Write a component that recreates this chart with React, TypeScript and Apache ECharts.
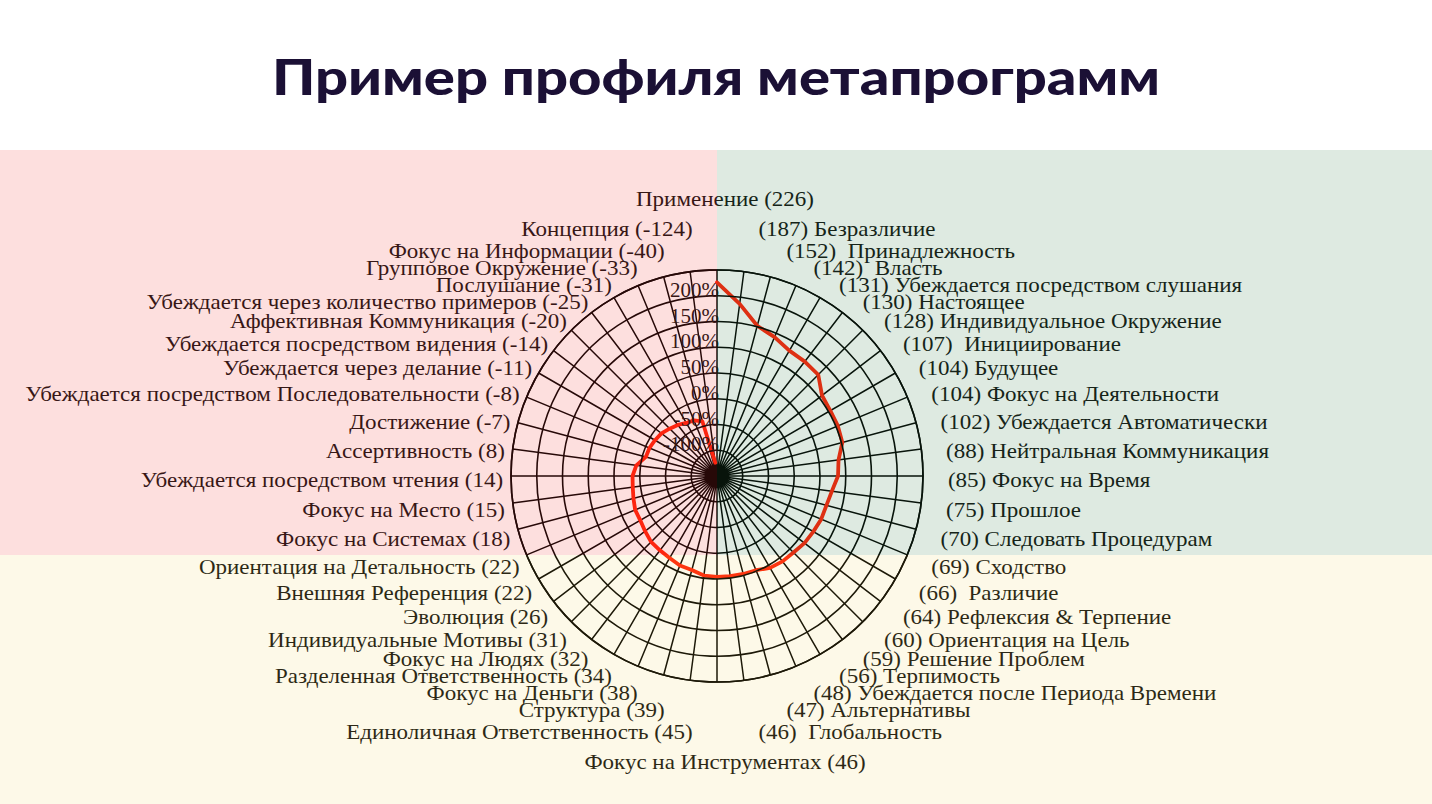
import React, { useEffect, useRef } from 'react';
import * as echarts from 'echarts';

const titleText = 'Пример профиля метапрограмм';

const categories: string[] = [
  'Применение', 'Безразличие', ' Принадлежность', ' Власть', 'Убеждается посредством слушания',
  'Настоящее', 'Индивидуальное Окружение', ' Инициирование', 'Будущее', 'Фокус на Деятельности',
  'Убеждается Автоматически', 'Нейтральная Коммуникация', 'Фокус на Время', 'Прошлое',
  'Следовать Процедурам', 'Сходство', ' Различие', 'Рефлексия & Терпение', 'Ориентация на Цель',
  'Решение Проблем', 'Терпимость', 'Убеждается после Периода Времени', 'Альтернативы', ' Глобальность',
  'Фокус на Инструментах', 'Единоличная Ответственность', 'Структура', 'Фокус на Деньги',
  'Разделенная Ответственность', 'Фокус на Людях', 'Индивидуальные Мотивы', 'Эволюция',
  'Внешняя Референция', 'Ориентация на Детальность', 'Фокус на Системах', 'Фокус на Место',
  'Убеждается посредством чтения', 'Ассертивность', 'Достижение', 'Убеждается посредством Последовательности',
  'Убеждается через делание', 'Убеждается посредством видения', 'Аффективная Коммуникация',
  'Убеждается через количество примеров', 'Послушание', 'Групповое Окружение', 'Фокус на Информации', 'Концепция',
];

const values: number[] = [
  226, 187, 152, 142, 131, 130, 128, 107, 104, 104, 102, 88, 85, 75, 70, 69, 66, 64, 60, 59, 56, 48, 47, 46,
  46, 45, 39, 38, 34, 32, 31, 26, 22, 22, 18, 15, 14, 8, -7, -8, -11, -14, -20, -25, -31, -33, -40, -124,
];

const R_MIN = -150;
const R_MAX = 250;
const R_STEP = 50;

const SERIF = '"Liberation Serif", "Times New Roman", serif';
const TEXT_COLOR = '#111';

function renderLabel(params: any, api: any) {
  const i = params.dataIndex;
  const n = categories.length;
  const c = api.coord([R_MIN, 0]);
  const pts = categories.map((_, k) => api.coord([R_MAX, k]));
  const R0 = Math.hypot(pts[0][0] - c[0], pts[0][1] - c[1]);
  const ux = pts.map((p: number[]) => (p[0] - c[0]) / R0);
  const uy = pts.map((p: number[]) => (p[1] - c[1]) / R0);
  const nat = uy.map((v: number) => Math.abs(v) * R0 * 1.092);
  const off: number[] = new Array(n).fill(0);
  const q = n / 4;
  const half = n / 2;
  const chain = (seq: number[]) => {
    let prev = nat[seq[0]];
    off[seq[0]] = prev;
    for (let j = 1; j < seq.length; j++) {
      const k = seq[j];
      const gap = j === seq.length - 1 ? 22 : 17;
      prev = Math.max(nat[k], prev + gap);
      off[k] = prev;
    }
  };
  const range = (a: number, b: number) => {
    const r: number[] = [];
    if (a <= b) for (let k = a; k <= b; k++) r.push(k);
    else for (let k = a; k >= b; k--) r.push(k);
    return r;
  };
  chain(range(q, 1));
  chain(range(q, half - 1));
  chain(range(3 * q, n - 1));
  chain(range(3 * q, half + 1));
  off[0] = Math.max(off[1], off[n - 1]) + 30;
  off[half] = Math.max(off[half - 1], off[half + 1]) + 30;

  const cyL = c[1] + 5;
  const dirY = uy[i] < -0.01 ? -1 : uy[i] > 0.01 ? 1 : 0;
  const y = cyL + dirY * off[i];
  const v = api.value(0);
  const name = categories[i];
  let x: number;
  let align: string;
  let text: string;
  if (Math.abs(ux[i]) < 0.01) {
    x = c[0] + 8;
    align = 'center';
    text = `${name} (${v})`;
  } else if (ux[i] > 0) {
    x = c[0] + 13 + 1.058 * R0 * ux[i];
    align = 'left';
    text = `(${v}) ${name}`;
  } else {
    x = c[0] + 4 + 1.058 * R0 * ux[i];
    align = 'right';
    text = `${name} (${v})`;
  }
  return {
    type: 'text',
    x,
    y,
    scaleX: 1.15,
    style: {
      text,
      fill: TEXT_COLOR,
      fontSize: 20,
      fontFamily: SERIF,
      align,
      verticalAlign: 'middle',
    },
  };
}

export default function App() {
  const ref = useRef<HTMLDivElement>(null);
  useEffect(() => {
    if (!ref.current) return;
    const chart = echarts.init(ref.current, undefined, { renderer: 'svg' });
    const n = categories.length;
    chart.setOption({
      animation: false,
      backgroundColor: '#ffffff',
      polar: { center: [717, 476], radius: 206 },
      angleAxis: {
        type: 'value',
        min: 0,
        max: n,
        interval: 1,
        startAngle: 90,
        clockwise: true,
        axisLine: { show: true, lineStyle: { color: '#000', width: 1.6 } },
        axisTick: { show: false },
        axisLabel: { show: false },
        splitLine: { show: true, lineStyle: { color: '#000', width: 1.5 } },
      },
      radiusAxis: {
        type: 'value',
        min: R_MIN,
        max: R_MAX,
        interval: R_STEP,
        axisLine: { show: false },
        axisTick: { show: false },
        splitLine: { show: true, lineStyle: { color: '#000', width: 1.6 } },
        axisLabel: {
          show: true,
          margin: -2,
          fontSize: 21,
          fontFamily: SERIF,
          color: TEXT_COLOR,
          verticalAlign: 'bottom',
          lineHeight: 12,
          formatter: (val: number) => (val === R_MIN || val === R_MAX ? '' : `${val}%`),
        },
        z: 10,
      },
      series: [
        {
          type: 'line',
          coordinateSystem: 'polar',
          data: values.map((v, i) => [v, i]),
          symbol: 'none',
          showSymbol: false,
          lineStyle: { color: '#ff220a', width: 3.8, cap: 'round', join: 'round' },
          z: 5,
        },
        {
          type: 'custom',
          coordinateSystem: 'polar',
          clip: false,
          data: values.map((v, i) => [v, i]),
          encode: { radius: 0, angle: 1 },
          renderItem: renderLabel,
          z: 6,
          silent: true,
        },
      ],
      graphic: [
        {
          type: 'text',
          x: 716,
          y: 76,
          scaleX: 1.16,
          silent: true,
          style: {
            text: titleText,
            fontSize: 50,
            fontWeight: 900,
            fontFamily: 'Lato, Inter, sans-serif',
            fill: '#1b1035',
            align: 'center',
            textAlign: 'center',
            verticalAlign: 'middle',
            textVerticalAlign: 'middle',
          },
        },
        { type: 'rect', silent: true, z: 100, shape: { x: 0, y: 150, width: 717, height: 405 }, style: { fill: 'rgba(242,55,49,0.16)' } },
        { type: 'rect', silent: true, z: 100, shape: { x: 717, y: 150, width: 715, height: 405 }, style: { fill: 'rgba(49,124,67,0.16)' } },
        { type: 'rect', silent: true, z: 100, shape: { x: 0, y: 555, width: 1432, height: 249 }, style: { fill: 'rgba(238,205,63,0.12)' } },
      ],
    });
    return () => chart.dispose();
  }, []);
  return (
    <div
      ref={ref}
      style={{ position: 'absolute', left: 0, top: 0, width: 1432, height: 804, background: '#fff' }}
    />
  );
}
